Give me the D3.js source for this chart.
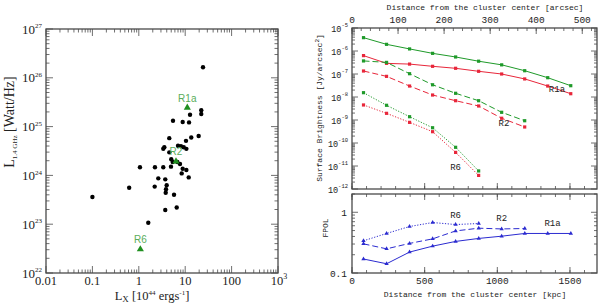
<!DOCTYPE html>
<html>
<head>
<meta charset="utf-8">
<script src="https://cdn.jsdelivr.net/npm/d3@7/dist/d3.min.js"></script>
<style>
body { margin: 0; background: #fff; }
svg { display: block; }
</style>
</head>
<body>
<div id="chart"></div>
<script>
// ---- left panel: radio power vs X-ray luminosity ----
var lumX = [0.10, 24.2, 22.2, 22.2, 12.7, 5.46, 8.83, 12.1, 19.5, 13.5, 4.54, 10.4,
  3.55, 3.37, 7.0, 8.1, 9.3, 10.6, 4.54, 5.0, 5.38, 6.76, 7.73, 4.94, 8.83, 10.6,
  8.4, 11.9, 1.06, 2.23, 3.37, 2.63, 3.72, 0.62, 2.2, 3.99, 3.86, 3.80, 5.74, 3.72,
  6.56, 1.6];
var lumRadio = [3.6e23, 1.64e26, 2.16e25, 1.81e25, 1.75e25, 1.32e25, 1.24e25, 1.22e25,
  6.4e24, 6.0e24, 5.8e24, 5.1e24, 3.77e24, 3.52e24, 4.06e24, 3.95e24, 3.77e24, 3.5e24,
  2.97e24, 2.14e24, 1.88e24, 1.88e24, 1.71e24, 1.51e24, 1.37e24, 1.29e24, 1.10e24,
  9.1e23, 1.47e24, 1.47e24, 1.47e24, 8.7e23, 8.3e23, 5.6e23, 5.9e23, 6.3e23, 5.2e23,
  4.4e23, 4.0e23, 1.95e23, 2.2e23, 1.07e23];
var relicNames = ['R1a', 'R2', 'R6'];
var relicLumX = [11.1, 6.34, 1.08];
var relicRadio = [2.44e25, 1.93e24, 3.06e22];

// ---- right panels: profiles ----
var arcsec = [25, 75, 125, 175, 225, 275, 325, 375, 425, 475];
var kpc = [79, 238, 396, 555, 713, 872, 1030, 1189, 1347, 1506];
var sbR1aGreen = [3.8e-6, 1.95e-6, 1.23e-6, 7.9e-7, 5.5e-7, 3.6e-7, 2.5e-7, 1.39e-7, 6.9e-8, 3.1e-8];
var sbR1aRed = [6.3e-7, 2.9e-7, 2.7e-7, 2.16e-7, 1.77e-7, 1.31e-7, 1.0e-7, 6.1e-8, 3.0e-8, 1.39e-8];
var sbR2Green = [3.7e-7, 3.2e-7, 1.03e-7, 3.4e-8, 1.45e-8, 6.9e-9, 2.16e-9, 9.3e-10];
var sbR2Red = [1.35e-7, 7.9e-8, 3.0e-8, 1.22e-8, 6.9e-9, 4.07e-9, 1.19e-9, 4.97e-10];
var sbR6Green = [1.54e-8, 4.36e-9, 1.39e-9, 4.6e-10, 6.5e-11, 6.1e-12];
var sbR6Red = [4.5e-9, 1.95e-9, 7.9e-10, 3.1e-10, 3.9e-11, 3.9e-12];
var fpolR1a = [0.17, 0.142, 0.221, 0.277, 0.331, 0.371, 0.404, 0.448, 0.448, 0.448];
var fpolR2 = [0.302, 0.25, 0.307, 0.365, 0.493, 0.547, 0.532, 0.54];
var fpolR6 = [0.339, 0.448, 0.583, 0.678, 0.628, 0.653];

var W = 600, H = 305;
var frameColor = '#4a4a4a';
var serif = '"Liberation Serif", "DejaVu Serif", serif';
var mono = '"Liberation Mono", "DejaVu Sans Mono", monospace';
var sans = '"Liberation Sans", Arial, sans-serif';

var svg = d3.select('#chart').append('svg').attr('width', W).attr('height', H);

// helpers for inward tick marks
function logMinor(lo, hi) {
  var out = [];
  for (var e = Math.floor(Math.log10(lo)); e < Math.ceil(Math.log10(hi)); e++) {
    for (var m = 2; m <= 9; m++) {
      var v = m * Math.pow(10, e);
      if (v > lo && v < hi) out.push(v);
    }
  }
  return out;
}
function xTicks(g, x, yPos, vals, len, dir) {
  g.append('g').selectAll('line').data(vals).enter().append('line')
    .attr('x1', function(d) { return x(d); }).attr('x2', function(d) { return x(d); })
    .attr('y1', yPos).attr('y2', yPos + dir * len)
    .attr('stroke', frameColor).attr('stroke-width', 0.8);
}
function yTicks(g, y, xPos, vals, len, dir) {
  g.append('g').selectAll('line').data(vals).enter().append('line')
    .attr('y1', function(d) { return y(d); }).attr('y2', function(d) { return y(d); })
    .attr('x1', xPos).attr('x2', xPos + dir * len)
    .attr('stroke', frameColor).attr('stroke-width', 0.8);
}
function powLabel(sel, exp, supSize) {
  sel.append('tspan').text('10');
  sel.append('tspan').attr('dy', -supSize * 0.75).attr('font-size', supSize).text(exp);
}
function frame(g, x0, y0, x1, y1) {
  g.append('rect').attr('x', x0).attr('y', y0).attr('width', x1 - x0).attr('height', y1 - y0)
    .attr('fill', 'none').attr('stroke', frameColor).attr('stroke-width', 1.3);
}

// ================= left panel =================
var L = { x0: 46, x1: 278, y0: 29, y1: 273 };
var xL = d3.scaleLog().domain([0.01, 1000]).range([L.x0, L.x1]);
var yL = d3.scaleLog().domain([1e22, 1e27]).range([L.y1, L.y0]);
var left = svg.append('g');

var xMajL = [0.01, 0.1, 1, 10, 100, 1000];
var yMajL = [1e22, 1e23, 1e24, 1e25, 1e26, 1e27];
xTicks(left, xL, L.y1, xMajL, 7, -1);
xTicks(left, xL, L.y1, logMinor(0.01, 1000), 3.5, -1);
xTicks(left, xL, L.y0, xMajL, 7, 1);
xTicks(left, xL, L.y0, logMinor(0.01, 1000), 3.5, 1);
yTicks(left, yL, L.x0, yMajL, 7, 1);
yTicks(left, yL, L.x0, logMinor(1e22, 1e27), 3.5, 1);
yTicks(left, yL, L.x1, yMajL, 7, -1);
yTicks(left, yL, L.x1, logMinor(1e22, 1e27), 3.5, -1);
frame(left, L.x0, L.y0, L.x1, L.y1);

var xLabL = ['0.01', '0.1', '1', '10', '100'];
left.append('g').selectAll('text').data(xLabL).enter().append('text')
  .attr('x', function(d) { return xL(+d); }).attr('y', 285)
  .attr('text-anchor', 'middle').attr('font-family', serif).attr('font-size', 12.5)
  .attr('fill', '#222').text(function(d) { return d; });
left.append('text').attr('x', xL(1000) + 1).attr('y', 285).attr('text-anchor', 'middle')
  .attr('font-family', serif).attr('font-size', 12.5).attr('fill', '#222')
  .call(powLabel, '3', 8);

left.append('g').selectAll('text').data(yMajL).enter().append('text')
  .attr('x', 42).attr('y', function(d) { return yL(d) + 4.5; })
  .attr('text-anchor', 'end').attr('font-family', serif).attr('font-size', 13)
  .attr('fill', '#222')
  .each(function(d) { powLabel(d3.select(this), String(Math.round(Math.log10(d))), 7); });

// axis titles
var xt = left.append('text').attr('x', 152).attr('y', 299.5).attr('text-anchor', 'middle')
  .attr('font-family', serif).attr('font-size', 12.5).attr('fill', '#222');
xt.append('tspan').text('L');
xt.append('tspan').attr('dy', 2).attr('font-size', 9).text('X');
xt.append('tspan').attr('dy', -2).text(' [10');
xt.append('tspan').attr('dy', -4.5).attr('font-size', 7).text('44');
xt.append('tspan').attr('dy', 4.5).text(' ergs');
xt.append('tspan').attr('dy', -4.5).attr('font-size', 7).text('-1');
xt.append('tspan').attr('dy', 4.5).text(']');

var yt = left.append('text').attr('transform', 'translate(14,' + 122 + ') rotate(-90)')
  .attr('text-anchor', 'middle').attr('font-family', serif).attr('font-size', 14).attr('fill', '#222');
yt.append('tspan').text('L');
yt.append('tspan').attr('dy', 3).attr('font-size', 7).text('1.4 GHz');
yt.append('tspan').attr('dy', -3).text(' [Watt/Hz]');

// scatter
left.append('g').selectAll('circle').data(lumX).enter().append('circle')
  .attr('cx', function(d) { return xL(d); })
  .attr('cy', function(d, i) { return yL(lumRadio[i]); })
  .attr('r', 2.2).attr('fill', '#000');

var tri = d3.symbol().type(d3.symbolTriangle).size(22);
left.append('g').selectAll('path').data(relicNames).enter().append('path')
  .attr('d', tri)
  .attr('transform', function(d, i) {
    return 'translate(' + xL(relicLumX[i]) + ',' + yL(relicRadio[i]) + ')';
  })
  .attr('fill', '#1f8f1f');
left.append('g').selectAll('text').data(relicNames).enter().append('text')
  .attr('x', function(d, i) { return xL(relicLumX[i]); })
  .attr('y', function(d, i) { return yL(relicRadio[i]) - 6; })
  .attr('text-anchor', 'middle').attr('font-family', sans).attr('font-size', 10)
  .attr('fill', '#5aad5a').text(function(d) { return d; });

// ================= right top panel =================
var T = { x0: 352, x1: 597, y0: 28, y1: 189 };
var B = { x0: 352, x1: 597, y0: 194, y1: 273 };
var xArc = d3.scaleLinear().domain([0, 532]).range([T.x0, T.x1]);
var xKpc = d3.scaleLinear().domain([0, 1686]).range([B.x0, B.x1]);
var ySB = d3.scaleLog().domain([1e-12, 1e-5]).range([T.y1, T.y0]);
var yFP = d3.scaleLog().domain([0.1, 2]).range([B.y1, B.y0]);

var topG = svg.append('g');
var arcMaj = d3.range(0, 501, 100), arcMin = d3.range(0, 532, 20);
var kpcMaj = d3.range(0, 1501, 500), kpcMin = d3.range(0, 1686, 100);
var sbMaj = [1e-12, 1e-11, 1e-10, 1e-9, 1e-8, 1e-7, 1e-6, 1e-5];

xTicks(topG, xArc, T.y0, arcMaj, 6, 1);
xTicks(topG, xArc, T.y0, arcMin, 3, 1);
xTicks(topG, xKpc, T.y1, kpcMaj, 6, -1);
xTicks(topG, xKpc, T.y1, kpcMin, 3, -1);
yTicks(topG, ySB, T.x0, sbMaj, 6, 1);
yTicks(topG, ySB, T.x0, logMinor(1e-12, 1e-5), 3, 1);
yTicks(topG, ySB, T.x1, sbMaj, 6, -1);
yTicks(topG, ySB, T.x1, logMinor(1e-12, 1e-5), 3, -1);
frame(topG, T.x0, T.y0, T.x1, T.y1);

topG.append('g').selectAll('text').data(arcMaj).enter().append('text')
  .attr('x', function(d) { return xArc(d); }).attr('y', 23)
  .attr('text-anchor', 'middle').attr('font-family', mono).attr('font-size', 9.5)
  .attr('fill', '#222').text(function(d) { return d; });
topG.append('text').attr('x', 485).attr('y', 10).attr('text-anchor', 'middle')
  .attr('font-family', mono).attr('font-size', 8).attr('fill', '#222')
  .text('Distance from the cluster center [arcsec]');

topG.append('g').selectAll('text').data(sbMaj).enter().append('text')
  .attr('x', 348).attr('y', function(d) { return ySB(d) + 3.5; })
  .attr('text-anchor', 'end').attr('font-family', mono).attr('font-size', 8.5)
  .attr('fill', '#222')
  .each(function(d) { powLabel(d3.select(this), String(Math.round(Math.log10(d))), 5.5); });

var syt = topG.append('text').attr('transform', 'translate(322,108) rotate(-90)')
  .attr('text-anchor', 'middle').attr('font-family', mono).attr('font-size', 8).attr('fill', '#222');
syt.append('tspan').text('Surface Brightness [Jy/arcsec');
syt.append('tspan').attr('dy', -3).attr('font-size', 6).text('2');
syt.append('tspan').attr('dy', 3).text(']');

var green = '#1f9a2a', red = '#e8263a', blue = '#2b2bd0';
var sbSeries = [
  { vals: sbR1aGreen, color: green, dash: null },
  { vals: sbR1aRed, color: red, dash: null },
  { vals: sbR2Green, color: green, dash: '6,3' },
  { vals: sbR2Red, color: red, dash: '6,3' },
  { vals: sbR6Green, color: green, dash: '1.2,1.6' },
  { vals: sbR6Red, color: red, dash: '1.2,1.6' }
];
var sbLine = d3.line()
  .x(function(d, i) { return xArc(arcsec[i]); })
  .y(function(d) { return ySB(d); });
sbSeries.forEach(function(s) {
  topG.append('path').datum(s.vals).attr('d', sbLine).attr('fill', 'none')
    .attr('stroke', s.color).attr('stroke-width', 1)
    .attr('stroke-dasharray', s.dash);
  topG.append('g').selectAll('rect').data(s.vals).enter().append('rect')
    .attr('x', function(d, i) { return xArc(arcsec[i]) - 1.6; })
    .attr('y', function(d) { return ySB(d) - 1.6; })
    .attr('width', 3.2).attr('height', 3.2).attr('fill', s.color);
});
var sbLabels = [
  { t: 'R1a', a: 445, v: 1.6e-8 },
  { t: 'R2', a: 330, v: 5.5e-10 },
  { t: 'R6', a: 225, v: 6.5e-12 }
];
topG.append('g').selectAll('text').data(sbLabels).enter().append('text')
  .attr('x', function(d) { return xArc(d.a); }).attr('y', function(d) { return ySB(d.v); })
  .attr('text-anchor', 'middle').attr('font-family', mono).attr('font-size', 9)
  .attr('fill', '#222').text(function(d) { return d.t; });

// ================= right bottom panel =================
var bot = svg.append('g');
var fpMaj = [0.1, 1];
xTicks(bot, xKpc, B.y1, kpcMaj, 6, -1);
xTicks(bot, xKpc, B.y1, kpcMin, 3, -1);
xTicks(bot, xKpc, B.y0, kpcMaj, 6, 1);
xTicks(bot, xKpc, B.y0, kpcMin, 3, 1);
yTicks(bot, yFP, B.x0, fpMaj, 6, 1);
yTicks(bot, yFP, B.x0, logMinor(0.1, 2.01), 3, 1);
yTicks(bot, yFP, B.x1, fpMaj, 6, -1);
yTicks(bot, yFP, B.x1, logMinor(0.1, 2.01), 3, -1);
frame(bot, B.x0, B.y0, B.x1, B.y1);

bot.append('g').selectAll('text').data(kpcMaj).enter().append('text')
  .attr('x', function(d) { return xKpc(d); }).attr('y', 284)
  .attr('text-anchor', 'middle').attr('font-family', mono).attr('font-size', 9.5)
  .attr('fill', '#222').text(function(d) { return d; });
bot.append('text').attr('x', 475).attr('y', 297).attr('text-anchor', 'middle')
  .attr('font-family', mono).attr('font-size', 8).attr('fill', '#222')
  .text('Distance from the cluster center [kpc]');
bot.append('g').selectAll('text').data(fpMaj).enter().append('text')
  .attr('x', 347).attr('y', function(d) { return yFP(d) + 3.5; })
  .attr('text-anchor', 'end').attr('font-family', mono).attr('font-size', 9.5)
  .attr('fill', '#222').text(function(d) { return d; });
bot.append('text').attr('transform', 'translate(328,228) rotate(-90)')
  .attr('text-anchor', 'middle').attr('font-family', mono).attr('font-size', 8)
  .attr('fill', '#222').text('FPOL');

var fpSeries = [
  { vals: fpolR1a, dash: null },
  { vals: fpolR2, dash: '6,3' },
  { vals: fpolR6, dash: '1.2,1.6' }
];
var fpLine = d3.line()
  .x(function(d, i) { return xKpc(kpc[i]); })
  .y(function(d) { return yFP(d); });
var smallTri = d3.symbol().type(d3.symbolTriangle).size(8);
fpSeries.forEach(function(s) {
  bot.append('path').datum(s.vals).attr('d', fpLine).attr('fill', 'none')
    .attr('stroke', blue).attr('stroke-width', 1)
    .attr('stroke-dasharray', s.dash);
  bot.append('g').selectAll('path').data(s.vals).enter().append('path')
    .attr('d', smallTri)
    .attr('transform', function(d, i) {
      return 'translate(' + xKpc(kpc[i]) + ',' + yFP(d) + ')';
    })
    .attr('fill', blue);
});
var fpLabels = [
  { t: 'R6', k: 713, v: 0.82 },
  { t: 'R2', k: 1030, v: 0.72 },
  { t: 'R1a', k: 1380, v: 0.6 }
];
bot.append('g').selectAll('text').data(fpLabels).enter().append('text')
  .attr('x', function(d) { return xKpc(d.k); }).attr('y', function(d) { return yFP(d.v); })
  .attr('text-anchor', 'middle').attr('font-family', mono).attr('font-size', 9)
  .attr('fill', '#222').text(function(d) { return d.t; });
</script>
</body>
</html>
